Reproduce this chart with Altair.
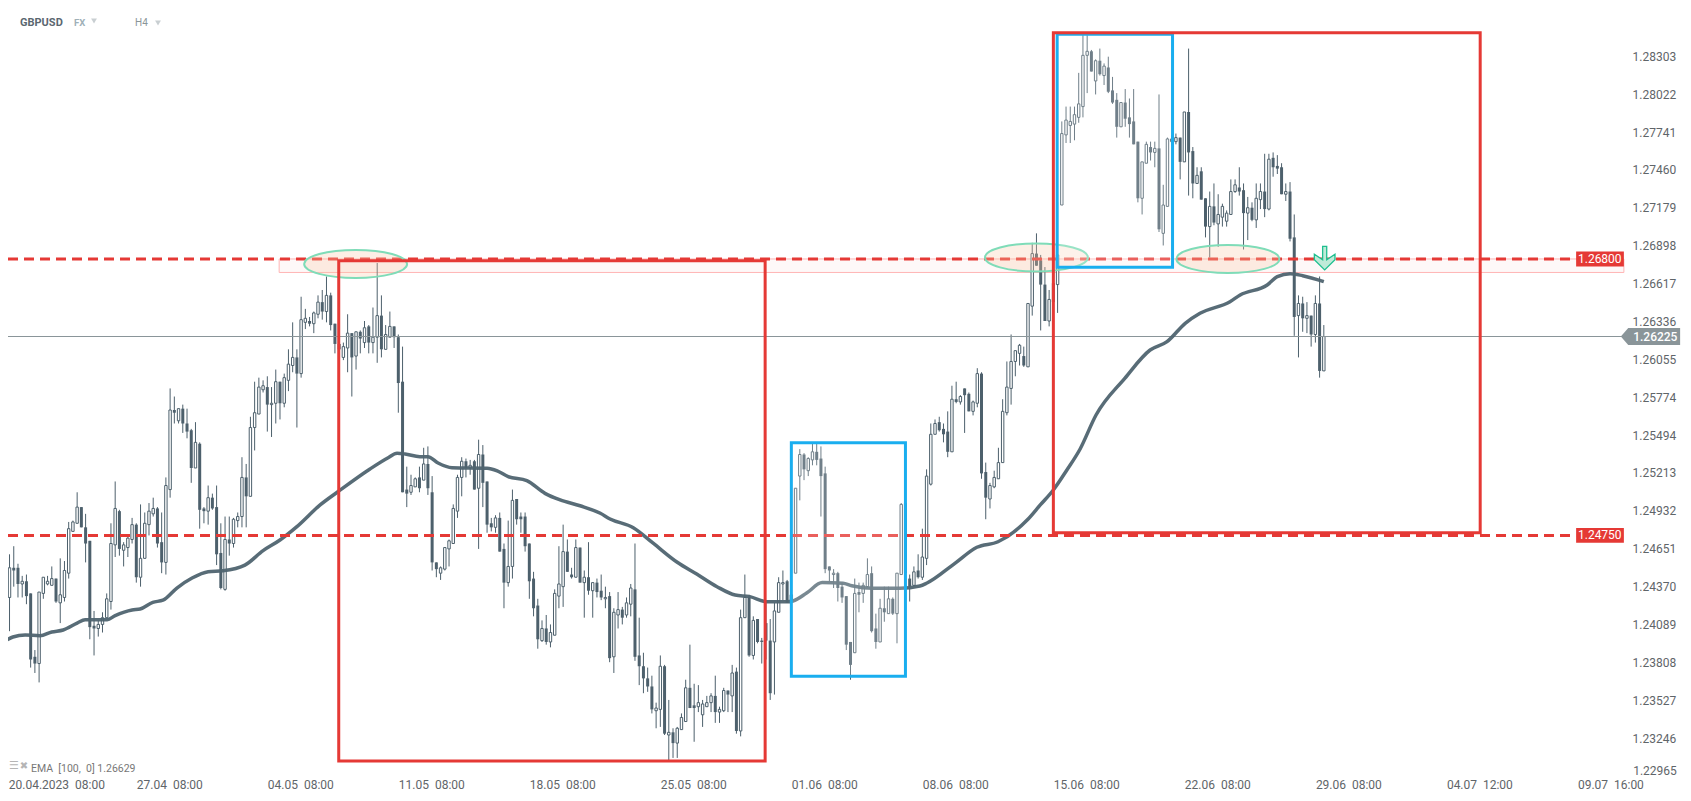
import altair as alt
import pandas as pd

# GBPUSD H4 candles, quoted in 1/10000 (12680 = 1.26800)
opens = [
12437,12429,12451,12451,12439,12441,12432,12385,12380,12432,
12439,12438,12443,12425,12429,12447,12478,12484,12496,12481,
12471,12408,12406,12409,12414,12426,12468,12493,12464,12466,
12472,12483,12444,12458,12483,12491,12495,12470,12455,12509,
12568,12560,12569,12558,12553,12525,12543,12495,12493,12503,
12496,12462,12435,12472,12469,12486,12489,12518,12504,12555,
12565,12583,12585,12572,12573,12589,12573,12590,12601,12607,
12595,12633,12634,12632,12639,12648,12641,12653,12632,12617,
12607,12614,12625,12608,12626,12618,12630,12618,12622,12638,
12613,12622,12630,12622,12589,12509,12507,12511,12518,12516,
12528,12507,12455,12447,12450,12465,12469,12493,12518,12530,
12525,12530,12510,12535,12515,12484,12481,12488,12465,12440,
12452,12502,12489,12489,12469,12443,12423,12397,12406,12396,
12401,12430,12437,12463,12446,12444,12466,12440,12444,12434,
12440,12434,12428,12430,12385,12416,12420,12416,12424,12435,
12386,12378,12369,12363,12345,12346,12378,12327,12329,12321,
12331,12337,12362,12349,12348,12342,12348,12351,12356,12344,
12345,12360,12356,12374,12330,12414,12429,12386,12413,12397,
12410,12397,12396,12418,12439,12441,12427,12447,12519,12535,
12523,12531,12537,12532,12521,12452,12446,12447,12437,12430,
12396,12388,12433,12432,12437,12447,12406,12396,12421,12417,
12428,12417,12446,12499,12443,12438,12449,12444,12458,12513,
12550,12559,12554,12552,12537,12576,12574,12584,12580,12567,
12573,12595,12522,12502,12511,12517,12529,12566,12584,12604,
12610,12608,12600,12645,12684,12679,12661,12634,12662,12661,
12720,12772,12779,12780,12785,12793,12831,12834,12812,12827,
12816,12822,12805,12798,12778,12796,12785,12782,12767,12725,
12751,12763,12759,12762,12699,12719,12767,12767,12770,12752,
12789,12760,12736,12745,12725,12704,12719,12706,12711,12708,
12713,12730,12733,12731,12714,12718,12709,12724,12730,12717,
12755,12749,12748,12728,12730,12696,12638,12647,12636,12638,
12624,12647,12597]
highs = [
12452,12461,12467,12454,12445,12446,12432,12390,12433,12444,
12445,12452,12443,12458,12456,12485,12486,12507,12496,12491,
12471,12419,12412,12418,12432,12484,12515,12494,12470,12475,
12488,12484,12498,12492,12499,12503,12496,12492,12518,12584,
12578,12569,12572,12569,12554,12559,12544,12496,12512,12506,
12512,12484,12489,12489,12488,12492,12533,12528,12563,12589,
12592,12590,12593,12585,12598,12589,12595,12613,12633,12613,
12652,12643,12637,12641,12653,12657,12667,12655,12632,12618,
12618,12639,12625,12626,12627,12634,12631,12644,12677,12653,
12631,12641,12630,12624,12615,12526,12520,12518,12526,12540,
12541,12519,12455,12452,12466,12472,12498,12520,12533,12532,
12531,12531,12546,12542,12515,12488,12490,12492,12469,12486,
12509,12502,12492,12492,12469,12448,12428,12412,12416,12409,
12435,12467,12483,12472,12451,12472,12466,12449,12470,12440,
12443,12446,12437,12433,12421,12433,12422,12429,12439,12469,
12414,12388,12377,12371,12351,12386,12379,12353,12332,12333,
12343,12368,12394,12365,12364,12353,12356,12358,12371,12348,
12362,12360,12379,12377,12420,12446,12431,12415,12413,12399,
12426,12413,12425,12444,12449,12442,12435,12510,12539,12536,
12533,12543,12543,12541,12526,12452,12450,12448,12440,12430,
12396,12443,12440,12440,12458,12452,12417,12428,12437,12437,
12429,12447,12499,12500,12446,12452,12461,12480,12524,12558,
12561,12563,12558,12567,12586,12589,12579,12584,12581,12575,
12599,12596,12529,12514,12523,12540,12576,12604,12624,12612,
12617,12615,12647,12692,12699,12683,12674,12657,12666,12722,
12782,12793,12793,12793,12818,12846,12846,12835,12828,12836,
12825,12830,12815,12803,12796,12806,12799,12806,12767,12752,
12767,12767,12767,12802,12735,12770,12772,12773,12770,12789,
12836,12763,12748,12748,12725,12730,12736,12728,12721,12716,
12739,12739,12748,12736,12726,12722,12736,12736,12758,12758,
12759,12757,12751,12736,12737,12713,12653,12652,12648,12638,
12653,12667,12631]
lows = [
12415,12404,12437,12429,12429,12424,12377,12373,12366,12428,
12438,12438,12425,12410,12426,12443,12478,12484,12481,12455,
12398,12386,12400,12403,12414,12420,12459,12460,12452,12459,
12469,12440,12437,12458,12475,12489,12466,12447,12446,12503,
12558,12558,12551,12547,12514,12525,12480,12484,12483,12494,
12453,12435,12434,12460,12466,12481,12481,12481,12504,12538,
12565,12581,12552,12548,12558,12561,12570,12582,12596,12555,
12592,12628,12630,12625,12636,12635,12633,12627,12610,12607,
12605,12596,12578,12598,12610,12614,12610,12610,12603,12607,
12613,12622,12614,12566,12507,12496,12505,12511,12507,12516,
12505,12449,12444,12442,12449,12452,12469,12488,12504,12518,
12520,12509,12465,12496,12477,12478,12477,12463,12421,12437,
12443,12483,12477,12463,12428,12415,12391,12396,12394,12392,
12401,12421,12422,12448,12443,12444,12440,12414,12431,12414,
12429,12427,12421,12381,12373,12406,12409,12414,12415,12382,
12364,12358,12359,12343,12332,12333,12327,12308,12310,12310,
12331,12337,12347,12322,12344,12333,12348,12344,12336,12336,
12344,12344,12344,12328,12326,12414,12385,12383,12395,12380,
12383,12353,12357,12418,12427,12425,12426,12447,12501,12516,
12519,12527,12527,12489,12447,12441,12436,12426,12425,12390,
12368,12388,12418,12425,12437,12403,12391,12396,12411,12417,
12416,12395,12446,12442,12426,12437,12443,12442,12453,12512,
12550,12552,12544,12533,12537,12573,12572,12551,12567,12564,
12570,12517,12487,12495,12510,12517,12529,12564,12572,12593,
12601,12600,12600,12638,12675,12627,12634,12630,12646,12640,
12720,12766,12766,12768,12781,12785,12803,12819,12802,12816,
12809,12803,12795,12770,12778,12778,12770,12765,12722,12713,
12751,12753,12748,12700,12690,12719,12764,12765,12739,12752,
12727,12725,12736,12724,12696,12681,12705,12689,12704,12704,
12713,12729,12727,12687,12694,12708,12703,12717,12711,12716,
12741,12743,12728,12723,12693,12623,12607,12626,12625,12615,
12618,12592,12597]
closes = [
12429,12451,12449,12439,12441,12430,12383,12380,12433,12444,
12441,12443,12426,12431,12449,12480,12485,12496,12481,12469,
12407,12406,12409,12414,12428,12469,12495,12465,12468,12473,
12483,12444,12458,12484,12493,12495,12469,12455,12512,12568,
12566,12569,12558,12552,12525,12544,12494,12493,12503,12495,
12461,12436,12472,12469,12487,12489,12518,12504,12555,12566,
12585,12586,12572,12573,12589,12573,12592,12602,12607,12595,
12635,12636,12632,12640,12648,12641,12653,12631,12617,12613,
12615,12625,12607,12626,12621,12629,12618,12622,12638,12613,
12624,12630,12622,12588,12507,12506,12512,12517,12510,12528,
12510,12455,12450,12451,12466,12471,12495,12518,12530,12525,
12527,12509,12535,12514,12483,12481,12488,12463,12440,12452,
12501,12487,12487,12467,12441,12421,12398,12406,12396,12403,
12432,12439,12463,12448,12444,12466,12440,12444,12434,12440,
12433,12429,12429,12384,12418,12420,12414,12425,12436,12385,
12378,12369,12363,12346,12347,12378,12328,12329,12321,12332,
12340,12362,12347,12347,12351,12350,12351,12356,12344,12346,
12360,12357,12373,12330,12414,12429,12386,12412,12396,12396,
12397,12358,12419,12440,12440,12425,12431,12510,12535,12524,
12532,12537,12531,12519,12450,12449,12447,12436,12429,12394,
12379,12432,12431,12438,12446,12404,12396,12421,12418,12428,
12417,12447,12498,12447,12437,12448,12444,12459,12519,12550,
12558,12553,12550,12537,12576,12574,12578,12579,12567,12574,
12595,12521,12503,12512,12518,12529,12567,12585,12604,12612,
12616,12601,12647,12684,12675,12661,12634,12650,12648,12683,
12773,12783,12782,12787,12795,12831,12834,12819,12827,12817,
12823,12804,12796,12778,12796,12784,12780,12765,12725,12752,
12765,12759,12762,12702,12720,12769,12769,12770,12752,12789,
12759,12736,12742,12724,12704,12719,12707,12713,12719,12714,
12730,12735,12730,12714,12718,12709,12725,12730,12717,12754,
12748,12747,12728,12730,12695,12637,12647,12636,12638,12624,
12647,12597,12622.5]

ema_bar = [0,1.8,4.7,8.2,11,13.7,17,18.9,24.1,26,30,31.9,34.9,37.3,40.6,44.2,48,51.5,56.7,61,65,69,
74.5,78.7,86.3,90.6,92.7,94.6,98.1,100,102.4,105.7,114,116.4,119,123.4,127.7,131.3,136,140.8,143.1,
148.6,153.3,159,163.7,168.4,172.7,176.2,180.2,185,186.4,189.7,193.3,198.2,200.3,205.3,211.7,216.4,
218.1,224.7,229.9,234.9,241.8,244.9,248,251.2,254.3,258.1,264.9,270.9,274.9,279.2,282.7,289.8,292.2,
298.6,301,304,307,312]
ema_val = [12396.9,12399.7,12401.2,12400.6,12403.4,12404.9,12410,12412.5,12412.5,12415.5,12419.7,12420.4,
12425.4,12427,12436,12443.4,12448.1,12448.8,12453,12463.7,12471.6,12481.5,12497.6,12507.4,12524.3,12532.6,
12535.9,12535.4,12533.4,12533.4,12528.7,12525.2,12524.8,12522.8,12518.6,12515.6,12506.2,12501.3,12497,
12491.4,12487.2,12480.7,12469.2,12455.1,12446.2,12437,12430.8,12429.6,12425.8,12425.8,12426.4,12432.5,
12440,12439.5,12437.7,12435.8,12435.8,12437.5,12439.7,12454.3,12466.2,12470.3,12486.4,12497.6,12508.7,
12523.5,12538.9,12564.3,12591.5,12612.5,12618.7,12632.3,12639.7,12648.3,12653.3,12660.7,12666.9,12669.1,
12667.6,12663.2]

y_ticks = [1.28303,1.28022,1.27741,1.27460,1.27179,1.26898,1.26617,1.26336,1.26055,1.25774,1.25494,
           1.25213,1.24932,1.24651,1.24370,1.24089,1.23808,1.23527,1.23246]
x_tick_bars = [0.7,31,62,93,124,155,186,217,248,279,310,341,372]
x_tick_text = ["20.04.2023 \u00a008:00","27.04 \u00a008:00","04.05 \u00a008:00","11.05 \u00a008:00","18.05 \u00a008:00",
               "25.05 \u00a008:00","01.06 \u00a008:00","08.06 \u00a008:00","15.06 \u00a008:00","22.06 \u00a008:00",
               "29.06 \u00a008:00","04.07 \u00a012:00","09.07 \u00a016:00"]

# annotation boxes: bar from, bar to, price top, price bottom
red_boxes = dict(x=[78.9,248], x2=[179.8,349], y=[1.26787,1.28478], y2=[1.23077,1.24770])
blue_boxes = dict(x=[186,248.9], x2=[213,276.2], y=[1.25438,1.28466], y2=[1.23705,1.26738])
zone = dict(x=[64.8], x2=[383], y=[1.2680], y2=[1.2670])
circles = dict(x=[82.9,244,289.3], y=[1.26763,1.26811,1.2680])
levels = [1.2680,1.2475]
level_tags = ["1.26800","1.24750"]
last_price = 1.26225

W, H = 1675, 785
RED, BLUE, INK, GREY = "#e53935", "#1aaeef", "#4d606c", "#8a9599"
LABEL = "#5f6569"
FONT = "Roboto"

xs = alt.Scale(domain=[0.639, 396.99], nice=False, zero=False, padding=0)
ys = alt.Scale(domain=[1.2284, 1.28661], nice=False, zero=False, padding=0)

df = pd.DataFrame(dict(bar=range(len(opens)), open=opens, high=highs, low=lows, close=closes))
for c in ["open", "high", "low", "close"]:
    df[c] = df[c] / 1e4
df["top"] = df[["open", "close"]].max(axis=1)
df["bot"] = df[["open", "close"]].min(axis=1)
df["up"] = df["close"] >= df["open"]
ema = pd.DataFrame(dict(bar=ema_bar, v=[v / 1e4 for v in ema_val]))

expr_x = "[" + ",".join(f"'{t}'" for t in x_tick_text) + "][indexof([" + ",".join(str(v) for v in x_tick_bars) + "],datum.value)]"

x_axis = alt.Axis(
    orient="bottom", values=x_tick_bars, labelExpr=expr_x, grid=False, domain=False, ticks=False,
    labelAlign="left", labelBaseline="middle", labelFont=FONT, labelFontSize=12, labelColor=LABEL,
    labelPadding=0, offset=-9, labelOverlap=False, labelFlush=False, labelBound=False, title=None)
y_axis = alt.Axis(
    orient="right", values=y_ticks, format=".5f", grid=False, domain=False, ticks=False,
    labelAlign="left", labelFont=FONT, labelFontSize=12, labelColor=LABEL,
    labelPadding=0, offset=-51, labelOverlap=False, labelFlush=False, labelBound=False, title=None)


def X(f="x"):
    return alt.X(f"{f}:Q", scale=xs, axis=x_axis, title=None)


def Y(f="y"):
    return alt.Y(f"{f}:Q", scale=ys, axis=y_axis, title=None)


zone_layer = alt.Chart(pd.DataFrame(zone)).mark_rect(
    fill=RED, fillOpacity=0.035, stroke="#ffb5b5", strokeWidth=1
).encode(x=X(), x2="x2:Q", y=Y(), y2="y2:Q")

base = alt.Chart(df)
wicks = base.mark_rule(color=INK, strokeWidth=1).encode(x=X("bar"), y=Y("low"), y2="high:Q")
down = base.transform_filter("!datum.up").mark_bar(size=3, color=INK, orient="vertical").encode(
    x=X("bar"), y=Y("top"), y2="bot:Q")
up = base.transform_filter("datum.up").mark_bar(
    size=2.4, fill="#ffffff", stroke=INK, strokeWidth=1, orient="vertical").encode(
    x=X("bar"), y=Y("top"), y2="bot:Q")

last_line = alt.Chart(pd.DataFrame(dict(x=[0.639], x2=[388], y=[last_price]))).mark_rule(
    color=GREY, strokeWidth=1).encode(x=X(), x2="x2:Q", y=Y())
ema_line = alt.Chart(ema).mark_line(color="#4f6470", strokeWidth=3.5, opacity=0.95, interpolate="monotone").encode(
    x=X("bar"), y=Y("v"))

dash = alt.Chart(pd.DataFrame(dict(x=[0.639] * 2, x2=[371.7] * 2, y=levels))).mark_rule(
    color=RED, strokeWidth=3, strokeDash=[10, 6]).encode(x=X(), x2="x2:Q", y=Y())

ELLIPSE = "M-1,0A1,0.272 0 1,1 1,0A1,0.272 0 1,1 -1,0Z"
ellipses = alt.Chart(pd.DataFrame(circles)).mark_point(
    shape=ELLIPSE, size=10609, filled=True, fill="#f7c9a8", fillOpacity=0.3,
    stroke="#7fdcb8", strokeWidth=2, opacity=1).encode(x=X(), y=Y())

blue = alt.Chart(pd.DataFrame(blue_boxes)).mark_rect(
    fill="#ffffff", fillOpacity=0.2, stroke=BLUE, strokeWidth=3).encode(
    x=X(), x2="x2:Q", y=Y(), y2="y2:Q")
red = alt.Chart(pd.DataFrame(red_boxes)).mark_rect(
    fillOpacity=0, stroke=RED, strokeWidth=3).encode(
    x=X(), x2="x2:Q", y=Y(), y2="y2:Q")

ARROW = "M-0.17,-1L0.17,-1L0.17,0.12L0.86,-0.35L0.86,0.1L0,0.96L-0.86,0.1L-0.86,-0.35L-0.17,0.12Z"
arrow = alt.Chart(pd.DataFrame(dict(x=[312.2], y=[1.26804]))).mark_point(
    shape=ARROW, size=576, filled=True, fill="#bfead8", stroke="#1fbf8f", strokeWidth=1.3, opacity=1).encode(
    x=X(), y=Y())

tags = alt.Chart(pd.DataFrame(dict(x=[371.7] * 2, x2=[383] * 2, y=[l + 0.00055 for l in levels],
                                   y2=[l - 0.00055 for l in levels]))).mark_rect(fill=RED).encode(
    x=X(), x2="x2:Q", y=Y(), y2="y2:Q")
tag_text = alt.Chart(pd.DataFrame(dict(x=[377.3] * 2, y=levels, t=level_tags))).mark_text(
    font=FONT, fontSize=12, color="#ffffff", align="center", baseline="middle").encode(
    x=X(), y=Y(), text="t:N")

PENT = "M-1,0L-0.75,-0.283L1,-0.283L1,0.283L-0.75,0.283Z"
last_tag = alt.Chart(pd.DataFrame(dict(x=[389.3], y=[last_price]))).mark_point(
    shape=PENT, size=3516, filled=True, fill=GREY, strokeWidth=0, opacity=1).encode(x=X(), y=Y())
last_text = alt.Chart(pd.DataFrame(dict(x=[385.2], y=[last_price], t=["1.26225"]))).mark_text(
    font=FONT, fontSize=12, fontWeight=500, color="#ffffff", align="left", baseline="middle").encode(
    x=X(), y=Y(), text="t:N")

low_tick = alt.Chart(pd.DataFrame(dict(x=[385.2], y=[1.22965], t=["1.22965"]))).mark_text(
    font=FONT, fontSize=12, color=LABEL, align="left", baseline="middle", dy=-5).encode(
    x=X(), y=Y(), text="t:N")


def chrome(text, px, py, **kw):
    return alt.Chart(pd.DataFrame(dict(t=[text]))).mark_text(baseline="middle", **kw).encode(
        x=alt.value(px), y=alt.value(py), text="t:N")


def caret(px, py):
    return alt.Chart(pd.DataFrame(dict(t=[0]))).mark_point(
        shape="triangle-down", size=34, filled=True, fill="#c9cfd2", opacity=1).encode(
        x=alt.value(px), y=alt.value(py))


ui = [
    chrome("GBPUSD", 12, 15, font=FONT, fontSize=11, fontWeight=700, color="#5b6770", align="left"),
    chrome("FX", 66, 15, font=FONT, fontSize=9.5, fontWeight=700, color="#9fb0b8", align="left"),
    chrome("H4", 127, 15, font=FONT, fontSize=10, color="#8a9599", align="left"),
    caret(86, 13), caret(150, 15),
    chrome("☰", 6, 758, font="DejaVu Sans", fontSize=11, color="#b5b5b5", align="center"),
    chrome("✖", 16, 758, font="DejaVu Sans", fontSize=10, color="#b5b5b5", align="center"),
    chrome("EMA \u00a0[100, \u00a00] 1.26629", 23, 761, font=FONT, fontSize=10.5, color="#777777", align="left"),
]

chart = alt.layer(
    zone_layer, wicks, down, up, last_line, ema_line, dash, ellipses, blue, red, arrow,
    tags, tag_text, last_tag, last_text, low_tick, *ui
).properties(width=W, height=H, padding=0, autosize="none", background="#ffffff"
).configure_view(stroke=None)

chart.save("out.html", embed_options={"renderer": "svg", "actions": False})
